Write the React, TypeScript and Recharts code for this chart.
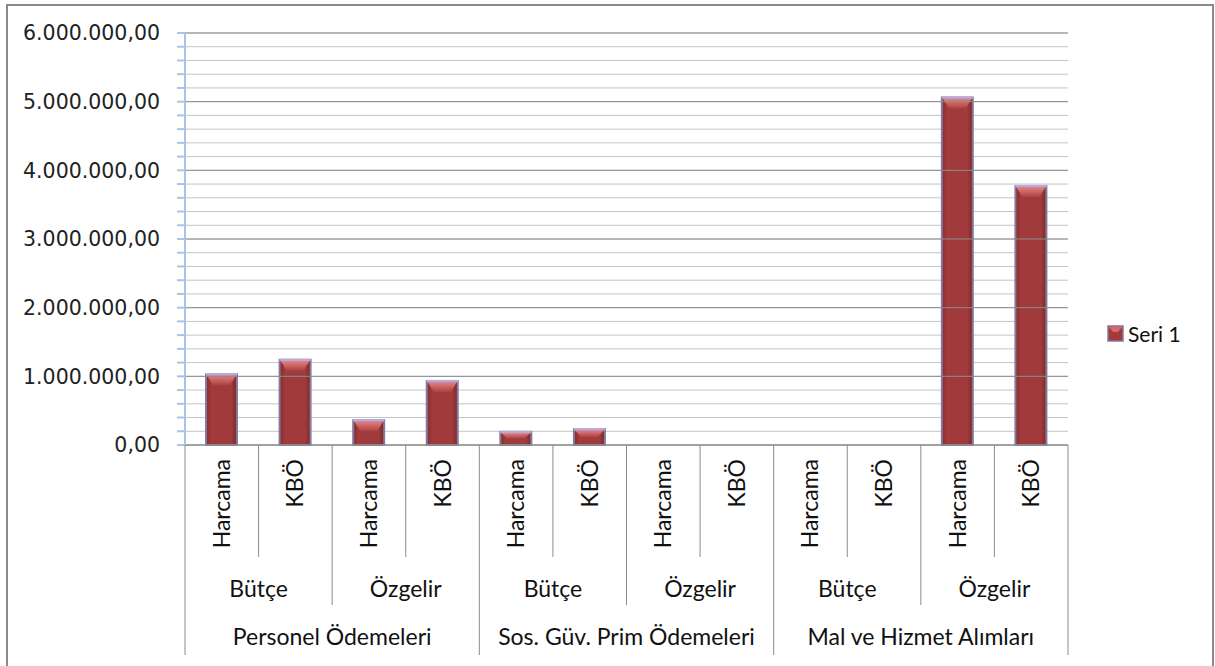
import React from "react";
import {
  BarChart,
  Bar,
  XAxis,
  YAxis,
  CartesianGrid,
  ReferenceLine,
  Legend,
} from "recharts";

const groups = ["Personel Ödemeleri", "Sos. Güv. Prim Ödemeleri", "Mal ve Hizmet Alımları"];
const sources = ["Bütçe", "Özgelir"];
const measures = ["Harcama", "KBÖ"];
const seri1 = [1030000, 1240000, 360000, 930000, 190000, 230000, 0, 0, 0, 0, 5060000, 3770000];
const majorTicks = [0, 1000000, 2000000, 3000000, 4000000, 5000000, 6000000];
const minorStep = 200000;

const yTicks: number[] = [];
for (let v = 0; v <= 6000000; v += minorStep) yTicks.push(v);

const data: any[] = [];
groups.forEach((g) =>
  sources.forEach((s) =>
    measures.forEach((m) => {
      data.push({ group: g, source: s, measure: m, value: seri1[data.length] });
    })
  )
);

const W = 1215;
const H = 666;
const PLOT_LEFT = 185;
const PLOT_RIGHT = 1068;
const BW = (PLOT_RIGHT - PLOT_LEFT) / data.length;
const LINE = "#8c8c8c";
const LABEL_FONT = "Lato, 'Open Sans', sans-serif";

const formatTr = (v: number) =>
  Math.round(v).toString().replace(/\B(?=(\d{3})+(?!\d))/g, ".") + ",00";

const BevelBar = (props: any) => {
  const { x, y, width, height, index } = props;
  if (!height || height <= 0) return null;
  const b = Math.min(11, height / 2);
  const id = `bb${index}`;
  return (
    <g>
      <defs>
        <linearGradient id={`${id}body`} x1="0" y1="0" x2="1" y2="0">
          <stop offset="0%" stopColor="#842d2d" />
          <stop offset="18%" stopColor="#a13b3b" />
          <stop offset="82%" stopColor="#a13b3b" />
          <stop offset="100%" stopColor="#7a2828" />
        </linearGradient>
        <linearGradient id={`${id}top`} x1="0" y1="0" x2="0" y2="1">
          <stop offset="0%" stopColor="#e8807f" />
          <stop offset="100%" stopColor="#a94242" />
        </linearGradient>
      </defs>
      <rect x={x} y={y} width={width} height={height} fill={`url(#${id}body)`} stroke="#85799f" strokeWidth={2} />
      <polygon
        points={`${x + 1},${y + 1} ${x + width - 1},${y + 1} ${x + width - 7},${y + b} ${x + 7},${y + b}`}
        fill={`url(#${id}top)`}
      />
      <line x1={x} x2={x + width} y1={y} y2={y} stroke="#bca9da" strokeWidth={2.5} />
    </g>
  );
};

const MeasureTick = (props: any) => {
  const { x, y, index, payload } = props;
  return (
    <g>
      <line x1={x - BW / 2} x2={x - BW / 2} y1={y} y2={y + 112} stroke={LINE} />
      {index === data.length - 1 && (
        <line x1={x + BW / 2} x2={x + BW / 2} y1={y} y2={y + 112} stroke={LINE} />
      )}
      <text
        x={0}
        y={0}
        transform={`translate(${x + 8},${y + 14}) rotate(-90)`}
        textAnchor="end"
        fontFamily={LABEL_FONT}
        fontSize={23}
        fill="#111"
      >
        {payload.value}
      </text>
    </g>
  );
};

const makeSpanTick = (span: number, height: number, textY: number) => (props: any) => {
  const { x, y, index, payload } = props;
  const first = index % span === 0;
  return (
    <g>
      {first && <line x1={x - BW / 2} x2={x - BW / 2} y1={y} y2={y + height} stroke={LINE} />}
      {index === data.length - 1 && (
        <line x1={x + BW / 2} x2={x + BW / 2} y1={y} y2={y + height} stroke={LINE} />
      )}
      {first && (
        <text
          x={x - BW / 2 + (span * BW) / 2}
          y={y + textY}
          textAnchor="middle"
          fontFamily={LABEL_FONT}
          fontSize={23}
          fill="#111"
        >
          {payload.value}
        </text>
      )}
    </g>
  );
};

const SourceTick = makeSpanTick(2, 48, 40);
const GroupTick = makeSpanTick(4, 50, 40);

const LegendContent = () => (
  <div style={{ display: "flex", alignItems: "center", paddingLeft: 39, fontFamily: LABEL_FONT, fontSize: 21, color: "#111" }}>
    <svg width={17} height={17} style={{ marginRight: 4 }}>
      <rect x={1} y={1} width={15} height={15} fill="#a13b3b" stroke="#85799f" strokeWidth={1.5} />
      <polygon points="1.5,1.5 15.5,1.5 11,7 6,7" fill="#d86a6a" />
    </svg>
    <span>Seri 1</span>
  </div>
);

export default function App() {
  return (
    <div style={{ position: "absolute", left: 0, top: 0, width: W, height: H, overflow: "hidden", background: "#fff" }}>
      <div
        style={{
          position: "absolute",
          left: 6,
          top: 4,
          width: 1208,
          height: 670,
          border: "2px solid #8a8a8a",
          borderBottom: "none",
          boxSizing: "border-box",
        }}
      />
      <div style={{ position: "absolute", left: 0, top: 0 }}>
        <BarChart width={W} height={H} data={data} margin={{ top: 33, right: 0, left: 0, bottom: 11 }}>
          <CartesianGrid vertical={false} stroke="#c4c4c4" />
          {majorTicks.map((v) => (
            <ReferenceLine key={v} y={v} stroke={LINE} ifOverflow="visible" />
          ))}
          <XAxis
            dataKey="measure"
            height={112}
            interval={0}
            tickSize={0}
            tickMargin={0}
            tickLine={false}
            axisLine={{ stroke: LINE }}
            tick={MeasureTick}
          />
          <XAxis
            xAxisId="src"
            dataKey="group"
            height={50}
            interval={0}
            tickSize={0}
            tickMargin={0}
            tickLine={false}
            axisLine={false}
            tick={GroupTick}
          />
          <XAxis
            xAxisId="grp"
            dataKey="source"
            height={48}
            interval={0}
            tickSize={0}
            tickMargin={0}
            tickLine={false}
            axisLine={false}
            tick={SourceTick}
          />
          <YAxis
            width={PLOT_LEFT}
            domain={[0, 6000000]}
            ticks={yTicks}
            interval={0}
            tickFormatter={(v: number) => (v % 1000000 === 0 ? formatTr(v) : "")}
            tickSize={8}
            tickMargin={17}
            axisLine={{ stroke: "#a9c2ea", strokeWidth: 2 }}
            tickLine={{ stroke: "#a9c2ea", strokeWidth: 2 }}
            tick={{ fontFamily: "'DejaVu Sans', sans-serif", fontSize: 20.5, fill: "#222" }}
          />
          <Legend
            layout="vertical"
            align="right"
            verticalAlign="middle"
            width={147}
            wrapperStyle={{ width: 147 }}
            content={LegendContent}
          />
          <Bar dataKey="value" name="Seri 1" barSize={31} shape={BevelBar} isAnimationActive={false} />
        </BarChart>
      </div>
    </div>
  );
}
